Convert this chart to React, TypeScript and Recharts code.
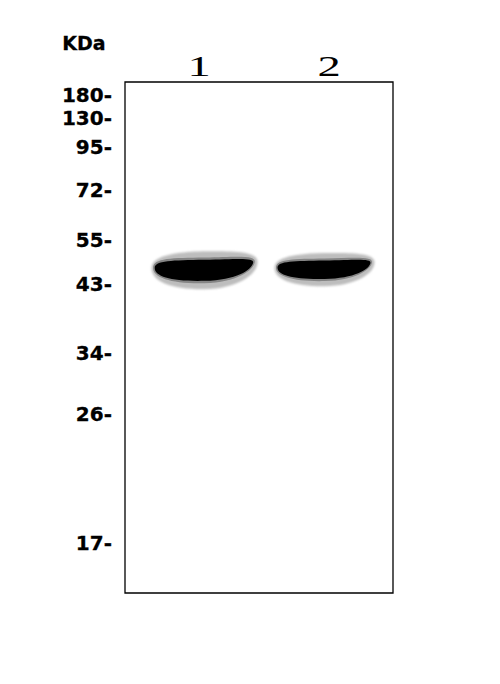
import { ComposedChart, XAxis, YAxis, ReferenceArea, Scatter } from 'recharts';

// marker ladder (kDa) and where each marker sits in the gel (migration from the well, px)
const markerKDa = ['180', '130', '95', '72', '55', '43', '34', '26', '17'];
const markerMigration = [13, 36, 65, 108, 158, 202, 271, 332, 461];

// lanes
const laneLabels = ['1', '2'];
const lanePositions = [74, 204];

// detected bands (outer extent incl. halo)
const bandStart = [26, 149];
const bandEnd = [133, 250];
const bandTop = [168, 170];
const bandBottom = [208, 205];

const GEL_WIDTH = 268;
const GEL_LENGTH = 511;

const bands = bandStart.map((s, i) => ({
  lane: laneLabels[i],
  x1: s,
  x2: bandEnd[i],
  y1: bandTop[i],
  y2: bandBottom[i],
}));

const laneData = lanePositions.map((p, i) => ({ pos: p, mig: 0, label: laneLabels[i] }));

const KDA_FONT = '"DejaVu Sans", Verdana, sans-serif';
const LANE_FONT = '"Liberation Serif", "DejaVu Serif", serif';

// normalised path helper: points in 0..1 of the band box
function bandPath(x: number, y: number, w: number, h: number, pts: string) {
  return pts.replace(/(-?[\d.]+),(-?[\d.]+)/g, (_m, u, v) =>
    `${(x + parseFloat(u) * w).toFixed(1)},${(y + parseFloat(v) * h).toFixed(1)}`
  );
}

const HALO = 'M 0.005,0.45 C 0.005,0.1 0.3,0.03 0.55,0.03 C 0.8,0.03 0.995,0.04 0.995,0.3 C 0.995,0.62 0.8,0.97 0.5,0.98 C 0.2,0.99 0.005,0.8 0.005,0.45 Z';
const MID = 'M 0.02,0.45 C 0.02,0.2 0.2,0.2 0.5,0.19 C 0.8,0.17 0.98,0.12 0.97,0.3 C 0.955,0.52 0.8,0.81 0.5,0.83 C 0.2,0.85 0.02,0.7 0.02,0.45 Z';
const CORE = 'M 0.035,0.45 C 0.035,0.26 0.2,0.26 0.5,0.245 C 0.8,0.23 0.96,0.18 0.955,0.31 C 0.94,0.5 0.8,0.75 0.5,0.77 C 0.2,0.79 0.035,0.67 0.035,0.45 Z';

function BandShape(props: any) {
  const { x, y, width, height } = props;
  if (x == null || width == null) return null;
  return (
    <g>
      <path d={bandPath(x, y, width, height, HALO)} fill="#bdbdbd" filter="url(#soft)" />
      <path d={bandPath(x, y, width, height, MID)} fill="#858585" filter="url(#soft2)" />
      <path d={bandPath(x, y, width, height, CORE)} fill="#020202" filter="url(#soft2)" />
    </g>
  );
}

function MarkerTick({ x, y, payload }: any) {
  const idx = markerMigration.indexOf(payload.value);
  return (
    <text
      x={x}
      y={y}
      dy="0.36em"
      textAnchor="end"
      fontFamily={KDA_FONT}
      fontWeight="bold"
      fontSize={20}
      fill="#000"
      stroke="#000"
      strokeWidth={0.3}
    >
      {`${markerKDa[idx]}-`}
    </text>
  );
}

function LaneTick({ x, y, payload }: any) {
  const idx = lanePositions.indexOf(payload.value);
  return (
    <g transform={`translate(${x},${y}) scale(1.55,1)`}>
      <text x={0} y={0} textAnchor="middle" fontFamily={LANE_FONT} fontSize={30} fill="#000">
        {laneLabels[idx]}
      </text>
    </g>
  );
}

function KdaLabel({ viewBox }: any) {
  if (!viewBox) return null;
  return (
    <text
      x={viewBox.x + 19}
      y={viewBox.y - 32}
      textAnchor="middle"
      fontFamily={KDA_FONT}
      fontWeight="bold"
      fontSize={19}
      fill="#000"
      stroke="#000"
      strokeWidth={0.3}
    >
      KDa
    </text>
  );
}

export default function App() {
  return (
    <div style={{ position: 'absolute', left: 0, top: 0, width: 500, height: 684, background: '#fff' }}>
      <svg width={0} height={0} style={{ position: 'absolute' }}>
        <defs>
          <filter id="soft" x="-10%" y="-30%" width="120%" height="160%">
            <feGaussianBlur stdDeviation="0.8" />
          </filter>
          <filter id="soft2" x="-10%" y="-30%" width="120%" height="160%">
            <feGaussianBlur stdDeviation="0.7" />
          </filter>
        </defs>
      </svg>
      <ComposedChart
        width={500}
        height={684}
        data={laneData}
        margin={{ top: 52, right: 107, bottom: 91, left: 65 }}
      >
        <XAxis
          xAxisId="lane"
          type="number"
          dataKey="pos"
          orientation="top"
          domain={[0, GEL_WIDTH]}
          ticks={lanePositions}
          height={30}
          axisLine={false}
          tickLine={false}
          tickSize={0}
          tickMargin={6}
          tick={<LaneTick />}
          interval={0}
        />
        <YAxis
          yAxisId="mig"
          type="number"
          dataKey="mig"
          reversed
          domain={[0, GEL_LENGTH]}
          ticks={markerMigration}
          width={60}
          axisLine={false}
          tickLine={false}
          tickSize={0}
          tickMargin={13}
          tick={<MarkerTick />}
          interval={0}
          label={<KdaLabel />}
        />
        <ReferenceArea
          xAxisId="lane"
          yAxisId="mig"
          x1={0}
          x2={GEL_WIDTH}
          y1={0}
          y2={GEL_LENGTH}
          fill="#fff"
          fillOpacity={1}
          stroke="#000"
          strokeWidth={1.3}
          strokeOpacity={1}
          ifOverflow="visible"
        />
        {bands.map((b) => (
          <ReferenceArea
            key={b.lane}
            xAxisId="lane"
            yAxisId="mig"
            x1={b.x1}
            x2={b.x2}
            y1={b.y1}
            y2={b.y2}
            shape={<BandShape />}
            ifOverflow="visible"
          />
        ))}
        <Scatter
          xAxisId="lane"
          yAxisId="mig"
          dataKey="mig"
          isAnimationActive={false}
          shape={() => <g />}
        />
      </ComposedChart>
    </div>
  );
}
